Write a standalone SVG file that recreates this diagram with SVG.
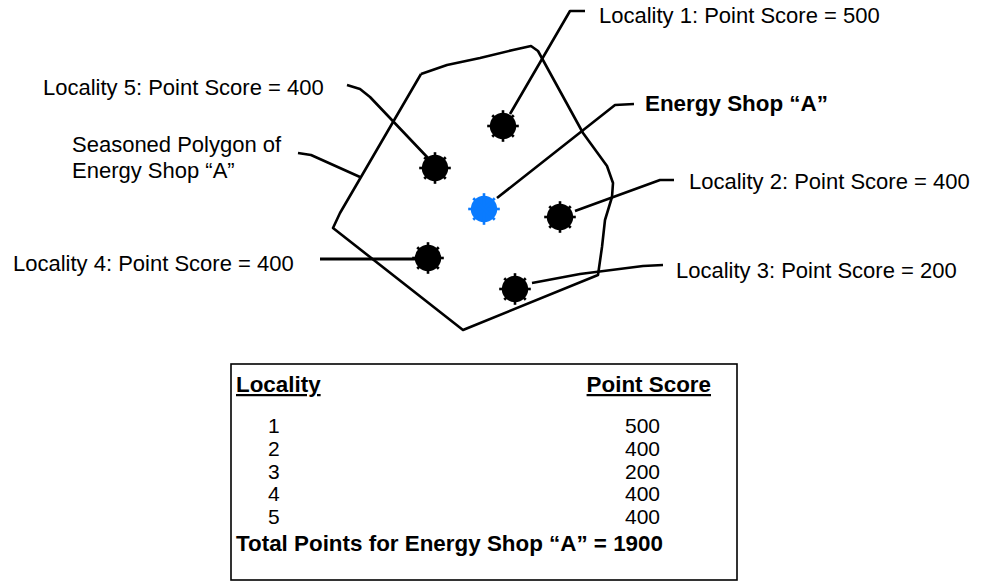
<svg xmlns="http://www.w3.org/2000/svg" width="983" height="587" viewBox="0 0 983 587">
<style>
text{font-family:"Liberation Sans",Arial,sans-serif;fill:#000}
.lbl{font-size:22px}
.b{font-weight:bold}
.tb{font-size:21px}
.tbb{font-size:22.4px;font-weight:bold}
.ln{fill:none;stroke:#000;stroke-width:2.6;stroke-linejoin:round;stroke-linecap:butt}
</style>
<defs>
<g id="dot">
<circle r="13.2"/>
<rect x="-1.3" y="-15.8" width="2.6" height="31.6"/>
<rect x="-15.8" y="-1.3" width="31.6" height="2.6"/>
<rect x="-1.3" y="-15.2" width="2.6" height="30.4" transform="rotate(45)"/>
<rect x="-1.3" y="-15.2" width="2.6" height="30.4" transform="rotate(-45)"/>
</g>
</defs>
<rect width="983" height="587" fill="#fff"/>
<g id="polygon">
<polyline class="ln" points="421,74 447,65 480,58 513,50 531,46 538,51 583,133 607,166 613,183 612,197 605,220 602,247 598,275 463,330 333,228 340,213 361,177 421,74"/>
</g>
<g id="connectors">
<polyline class="ln" points="510,114 570,11 585,11"/>
<polyline class="ln" points="347,85 360,89 370,97 428,158"/>
<polyline class="ln" points="497,198 615,105 634,104"/>
<polyline class="ln" points="575,211 660,180 674,180"/>
<polyline class="ln" points="532,283 580,274 643,266 663,265"/>
<polyline class="ln" style="stroke-width:3" points="320,259 427,259"/>
<polyline class="ln" points="298,153 311,155 360,177"/>
</g>
<g id="locality1">
<use href="#dot" x="503" y="126"/>
<text class="lbl" x="599" y="23">Locality 1: Point Score = 500</text>
</g>
<g id="locality5">
<use href="#dot" x="435" y="168"/>
<text class="lbl" x="43" y="95">Locality 5: Point Score = 400</text>
</g>
<g id="energy-shop-a">
<use href="#dot" x="484" y="209" fill="#0A7BFF"/>
<text class="lbl b" x="645" y="111" style="font-size:22.4px">Energy Shop “A”</text>
</g>
<g id="locality2">
<use href="#dot" x="560" y="217"/>
<text class="lbl" x="689" y="189">Locality 2: Point Score = 400</text>
</g>
<g id="locality3">
<use href="#dot" x="515" y="289"/>
<text class="lbl" x="676" y="278">Locality 3: Point Score = 200</text>
</g>
<g id="locality4">
<use href="#dot" x="428" y="258"/>
<text class="lbl" x="13" y="271">Locality 4: Point Score = 400</text>
</g>
<g id="polygon-label">
<text class="lbl" x="72" y="152">Seasoned Polygon of</text>
<text class="lbl" x="72" y="178">Energy Shop “A”</text>
</g>
<g id="table">
<rect x="231" y="364" width="506" height="216" fill="none" stroke="#000" stroke-width="1.6"/>
<text class="tbb" x="236" y="392" text-decoration="underline">Locality</text>
<text class="tbb" x="711" y="392" text-anchor="end" text-decoration="underline">Point Score</text>
<text class="tb" x="268" y="433">1</text>
<text class="tb" x="268" y="456">2</text>
<text class="tb" x="268" y="479">3</text>
<text class="tb" x="268" y="501">4</text>
<text class="tb" x="268" y="524">5</text>
<text class="tb" x="660" y="433" text-anchor="end">500</text>
<text class="tb" x="660" y="456" text-anchor="end">400</text>
<text class="tb" x="660" y="479" text-anchor="end">200</text>
<text class="tb" x="660" y="501" text-anchor="end">400</text>
<text class="tb" x="660" y="524" text-anchor="end">400</text>
<text class="tbb" x="236" y="551">Total Points for Energy Shop “A” = 1900</text>
</g>
</svg>
